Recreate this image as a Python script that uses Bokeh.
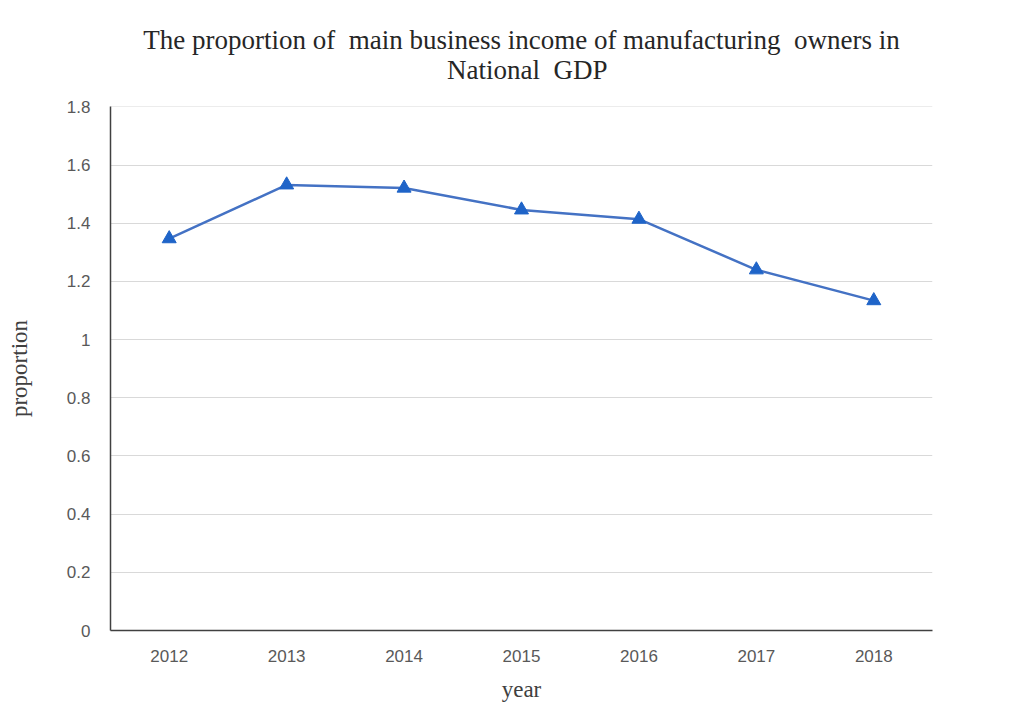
from bokeh.plotting import figure
from bokeh.models import Range1d, FixedTicker, CustomJSTickFormatter, Title
from bokeh.embed import file_html
from bokeh.resources import INLINE

years = ["2012", "2013", "2014", "2015", "2016", "2017", "2018"]
proportion = [1.347, 1.532, 1.521, 1.446, 1.414, 1.240, 1.134]
y_ticks = [0, 0.2, 0.4, 0.6, 0.8, 1.0, 1.2, 1.4, 1.6, 1.8]
NB = "\u00a0"
title_lines = ["The proportion of" + NB + " main business income of manufacturing" + NB + " owners in",
               "National" + NB + " GDP"]

p = figure(width=1010, height=715, x_range=years, y_range=Range1d(0, 1.8015),
           output_backend="svg", toolbar_location=None,
           min_border_left=110, min_border_right=78, min_border_top=106, min_border_bottom=85)

# second line centred under the first by non-breaking-space indent
title_text = title_lines[0] + "\n" + NB * 45 + title_lines[1]
p.add_layout(Title(text=title_text, align="center", offset=19, text_font="Liberation Serif",
                   text_font_size="27px", text_font_style="normal",
                   text_color="#262626", standoff=44), "above")

p.line(years, proportion, line_color="#4472C4", line_width=2.5)
p.scatter(years, proportion, marker="triangle", size=14, fill_color="#1F64C8",
          line_color="#1F64C8")

p.outline_line_color = None
p.xgrid.grid_line_color = None
p.ygrid.grid_line_color = "#d9d9d9"
p.ygrid.grid_line_width = 1

p.yaxis.ticker = FixedTicker(ticks=y_ticks)
p.yaxis.formatter = CustomJSTickFormatter(code="return tick.toFixed(1).replace(/\\.0$/, '');")

for ax in (p.xaxis, p.yaxis):
    ax.axis_line_color = "#404040"
    ax.axis_line_width = 1.5
    ax.major_tick_line_color = None
    ax.minor_tick_line_color = None
    ax.major_label_text_font = "Liberation Sans"
    ax.major_label_text_font_size = "17px"
    ax.major_label_text_color = "#595959"
    ax.axis_label_text_font = "Liberation Serif"
    ax.axis_label_text_font_size = "23px"
    ax.axis_label_text_font_style = "normal"
    ax.axis_label_text_color = "#404040"

p.yaxis.major_label_standoff = 14
p.xaxis.major_label_standoff = 13
p.xaxis.axis_label = "year"
p.yaxis.axis_label = "proportion"
p.xaxis.axis_label_standoff = 12
p.yaxis.axis_label_standoff = 32

open("out.html", "w").write(file_html(p, INLINE))
